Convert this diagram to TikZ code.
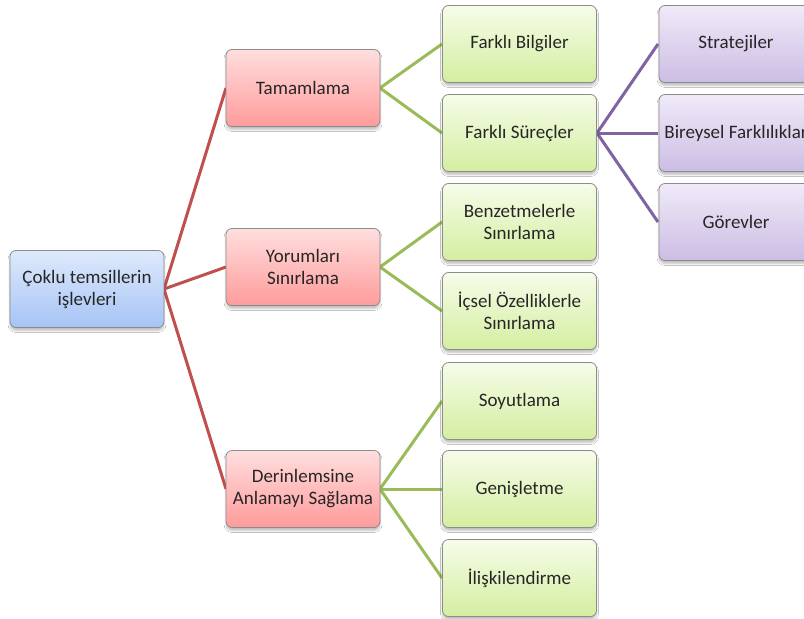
\documentclass[tikz,border=0pt]{standalone}
\usepackage{fontspec}
\setmainfont{Carlito}
\usetikzlibrary{shadows.blur}
\definecolor{txt}{HTML}{262626}
\definecolor{redl}{HTML}{C0504D}
\definecolor{greenl}{HTML}{9BBB59}
\definecolor{purplel}{HTML}{8064A2}
\tikzset{
  box/.style={rectangle, rounded corners=6pt, draw=black!45, line width=0.8pt,
    minimum width=154pt, minimum height=77pt, align=center, text=txt,
    font=\fontsize{19}{22}\selectfont,
    blur shadow={shadow xshift=0pt, shadow yshift=-3pt, shadow opacity=25, shadow blur steps=5}},
  bluebox/.style={box, top color={rgb,255:red,222;green,233;blue,252}, bottom color={rgb,255:red,166;green,196;blue,245}},
  redbox/.style={box, top color={rgb,255:red,255;green,222;blue,222}, bottom color={rgb,255:red,255;green,155;blue,155}},
  greenbox/.style={box, top color={rgb,255:red,246;green,252;blue,233}, bottom color={rgb,255:red,212;green,238;blue,160}},
  purplebox/.style={box, top color={rgb,255:red,240;green,234;blue,248}, bottom color={rgb,255:red,204;green,189;blue,228}},
  redlink/.style={draw=redl, line width=3pt},
  greenlink/.style={draw=greenl, line width=3pt},
  purplelink/.style={draw=purplel, line width=3pt},
}
\begin{document}
\begin{tikzpicture}[x=1pt,y=-1pt]
\useasboundingbox (0,0) rectangle (804,619);
\fill[white] (0,0) rectangle (804,619);
% links first
\coordinate (rootE) at (164,289);
\coordinate (tamW) at (226,88);
\coordinate (yorW) at (226,267);
\coordinate (derW) at (226,489);
\draw[redlink] (rootE) -- (tamW);
\draw[redlink] (rootE) -- (yorW);
\draw[redlink] (rootE) -- (derW);
\draw[greenlink] (380,88) -- (442,44);
\draw[greenlink] (380,88) -- (442,133);
\draw[greenlink] (380,267) -- (442,222);
\draw[greenlink] (380,267) -- (442,311);
\draw[greenlink] (380,489) -- (442,401);
\draw[greenlink] (380,489) -- (442,489);
\draw[greenlink] (380,489) -- (442,578);
\draw[purplelink] (597,133) -- (658,44);
\draw[purplelink] (597,133) -- (658,133);
\draw[purplelink] (597,133) -- (658,222);
% nodes
\node[bluebox] (root) at (87,289) {Çoklu temsillerin\\işlevleri};
\node[redbox] (tam) at (303,88) {Tamamlama};
\node[redbox] (yor) at (303,267) {Yorumları\\Sınırlama};
\node[redbox] (der) at (303,489) {Derinlemsine\\Anlamayı Sağlama};
\node[greenbox] (fb) at (519.5,44) {Farklı Bilgiler};
\node[greenbox] (fs) at (519.5,133) {Farklı Süreçler};
\node[greenbox] (bz) at (519.5,222) {Benzetmelerle\\Sınırlama};
\node[greenbox] (ic) at (519.5,311) {İçsel Özelliklerle\\Sınırlama};
\node[greenbox] (so) at (519.5,401) {Soyutlama};
\node[greenbox] (ge) at (519.5,489) {Genişletme};
\node[greenbox] (il) at (519.5,578) {İlişkilendirme};
\node[purplebox] (st) at (736,44) {Stratejiler};
\node[purplebox] (bf) at (736,133) {Bireysel Farklılıklar};
\node[purplebox] (go) at (736,222) {Görevler};
\end{tikzpicture}
\end{document}
